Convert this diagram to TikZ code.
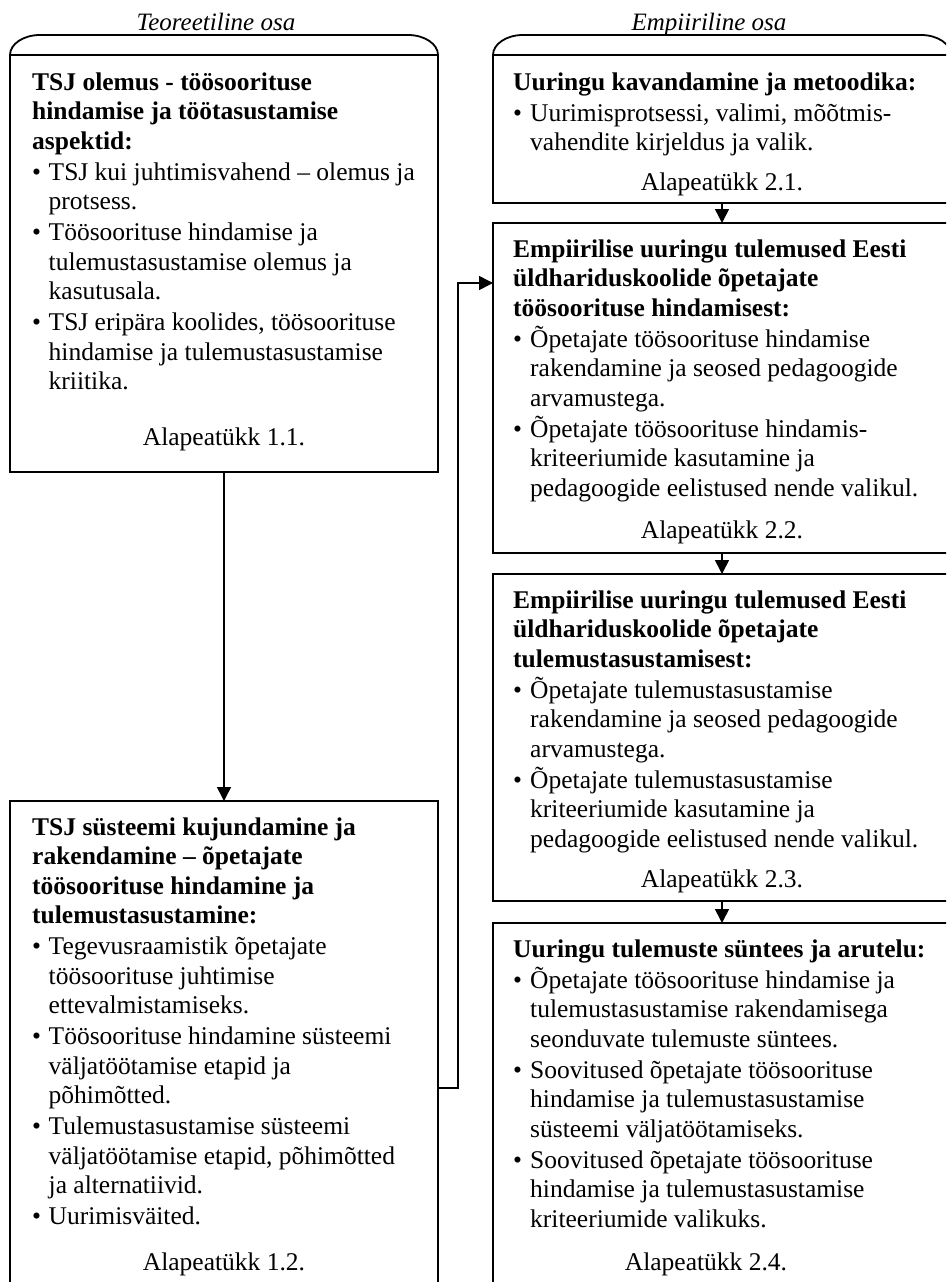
\documentclass[tikz,border=0pt]{standalone}
\usepackage{fontspec}
\setmainfont{Liberation Serif}
\usetikzlibrary{arrows.meta}
% bullet with hanging indent
\newcommand{\lbul}{\makebox[16.5pt][l]{\textbullet}}
\newcommand{\lind}{\hspace*{16.5pt}}
\newcommand{\rbul}{\makebox[17pt][l]{\textbullet}}
\newcommand{\rind}{\hspace*{17pt}}
\begin{document}
\begin{tikzpicture}[x=1pt,y=-1pt,
  box/.style={draw, line width=1.8pt, rectangle, inner sep=0pt, outer sep=0pt, anchor=north west},
  tabline/.style={line width=1.8pt},
  flow/.style={line width=1.6pt, -{Triangle[length=14pt,width=14pt]}},
  body/.style={anchor=base west, inner sep=0pt, font=\fontsize{25.5}{29.5}\selectfont},
  chap/.style={anchor=base, inner sep=0pt, font=\fontsize{25.5}{29.5}\selectfont},
  head/.style={anchor=base, inner sep=0pt, font=\fontsize{25}{30}\selectfont\itshape}]
\useasboundingbox (0,0) rectangle (946,1282);
\clip (0,0) rectangle (946,1282);

% column headings
\node[head] (hT) at (216,30) {Teoreetiline osa};
\node[head] (hE) at (709,30) {Empiiriline osa};

% rounded tabs on top of each column
\draw[tabline] (10,55) .. controls (10,44) and (23.4,35) .. (40,35) -- (408,35)
  .. controls (424.6,35) and (438,44) .. (438,55);
\draw[tabline] (493,55) .. controls (493,44) and (506.4,35) .. (523,35) -- (921,35)
  .. controls (937.6,35) and (951,44) .. (951,55);

% boxes
\node[box, minimum width=428pt, minimum height=417pt] (b11) at (10,55) {};
\node[box, minimum width=428pt, minimum height=509pt] (b12) at (10,801) {};
\node[box, minimum width=458pt, minimum height=148pt] (b21) at (493,55) {};
\node[box, minimum width=458pt, minimum height=330pt] (b22) at (493,223) {};
\node[box, minimum width=458pt, minimum height=327pt] (b23) at (493,574) {};
\node[box, minimum width=458pt, minimum height=387pt] (b24) at (493,923) {};

% box texts
\node[body] (t11) at (32,90) {\parbox[t]{410pt}{\raggedright
  \textbf{TSJ olemus - töösoorituse}\\
  \textbf{hindamise ja töötasustamise}\\
  \textbf{aspektid:}\\[1.5pt]
  \lbul TSJ kui juhtimisvahend – olemus ja\\
  \lind protsess.\\[1.5pt]
  \lbul Töösoorituse hindamise ja\\
  \lind tulemustasustamise olemus ja\\
  \lind kasutusala.\\[1.5pt]
  \lbul TSJ eripära koolides, töösoorituse\\
  \lind hindamise ja tulemustasustamise\\
  \lind kriitika.}};

\node[body] (t12) at (32,835) {\parbox[t]{410pt}{\raggedright
  \textbf{TSJ süsteemi kujundamine ja}\\
  \textbf{rakendamine – õpetajate}\\
  \textbf{töösoorituse hindamine ja}\\
  \textbf{tulemustasustamine:}\\[1.5pt]
  \lbul Tegevusraamistik õpetajate\\
  \lind töösoorituse juhtimise\\
  \lind ettevalmistamiseks.\\[1.5pt]
  \lbul Töösoorituse hindamine süsteemi\\
  \lind väljatöötamise etapid ja\\
  \lind põhimõtted.\\[1.5pt]
  \lbul Tulemustasustamise süsteemi\\
  \lind väljatöötamise etapid, põhimõtted\\
  \lind ja alternatiivid.\\[1.5pt]
  \lbul Uurimisväited.}};

\node[body] (t21) at (513,90) {\parbox[t]{420pt}{\raggedright
  \textbf{Uuringu kavandamine ja metoodika:}\\[1.5pt]
  \rbul Uurimisprotsessi, valimi, mõõtmis-\\
  \rind vahendite kirjeldus ja valik.}};

\node[body] (t22) at (513,257) {\parbox[t]{420pt}{\raggedright
  \textbf{Empiirilise uuringu tulemused Eesti}\\
  \textbf{üldhariduskoolide õpetajate}\\
  \textbf{töösoorituse hindamisest:}\\[1.5pt]
  \rbul Õpetajate töösoorituse hindamise\\
  \rind rakendamine ja seosed pedagoogide\\
  \rind arvamustega.\\[1.5pt]
  \rbul Õpetajate töösoorituse hindamis-\\
  \rind kriteeriumide kasutamine ja\\
  \rind pedagoogide eelistused nende valikul.}};

\node[body] (t23) at (513,608) {\parbox[t]{420pt}{\raggedright
  \textbf{Empiirilise uuringu tulemused Eesti}\\
  \textbf{üldhariduskoolide õpetajate}\\
  \textbf{tulemustasustamisest:}\\[1.5pt]
  \rbul Õpetajate tulemustasustamise\\
  \rind rakendamine ja seosed pedagoogide\\
  \rind arvamustega.\\[1.5pt]
  \rbul Õpetajate tulemustasustamise\\
  \rind kriteeriumide kasutamine ja\\
  \rind pedagoogide eelistused nende valikul.}};

\node[body] (t24) at (513,957) {\parbox[t]{420pt}{\raggedright
  \textbf{Uuringu tulemuste süntees ja arutelu:}\\[1.5pt]
  \rbul Õpetajate töösoorituse hindamise ja\\
  \rind tulemustasustamise rakendamisega\\
  \rind seonduvate tulemuste süntees.\\[1.5pt]
  \rbul Soovitused õpetajate töösoorituse\\
  \rind hindamise ja tulemustasustamise\\
  \rind süsteemi väljatöötamiseks.\\[1.5pt]
  \rbul Soovitused õpetajate töösoorituse\\
  \rind hindamise ja tulemustasustamise\\
  \rind kriteeriumide valikuks.}};

% chapter references
\node[chap] (a11) at (224,445) {Alapeatükk 1.1.};
\node[chap] (a12) at (224,1270) {Alapeatükk 1.2.};
\node[chap] (a21) at (722,190) {Alapeatükk 2.1.};
\node[chap] (a22) at (722,538) {Alapeatükk 2.2.};
\node[chap] (a23) at (722,887) {Alapeatükk 2.3.};
\node[chap] (a24) at (706,1270) {Alapeatükk 2.4.};

% connectors
\draw[flow] (b11.south) -- (b11.south |- b12.north);
\draw[flow] (b21.south) -- (b22.north);
\draw[flow] (b22.south) -- (b23.north);
\draw[flow] (b23.south) -- (b24.north);
\coordinate (yLow) at (0,1088);
\coordinate (yHigh) at (0,283);
\coordinate (bend) at (458,0);
\draw[flow] (b12.east |- yLow) -- (bend |- yLow) -- (bend |- yHigh) -- (b22.west |- yHigh);
\end{tikzpicture}
\end{document}
